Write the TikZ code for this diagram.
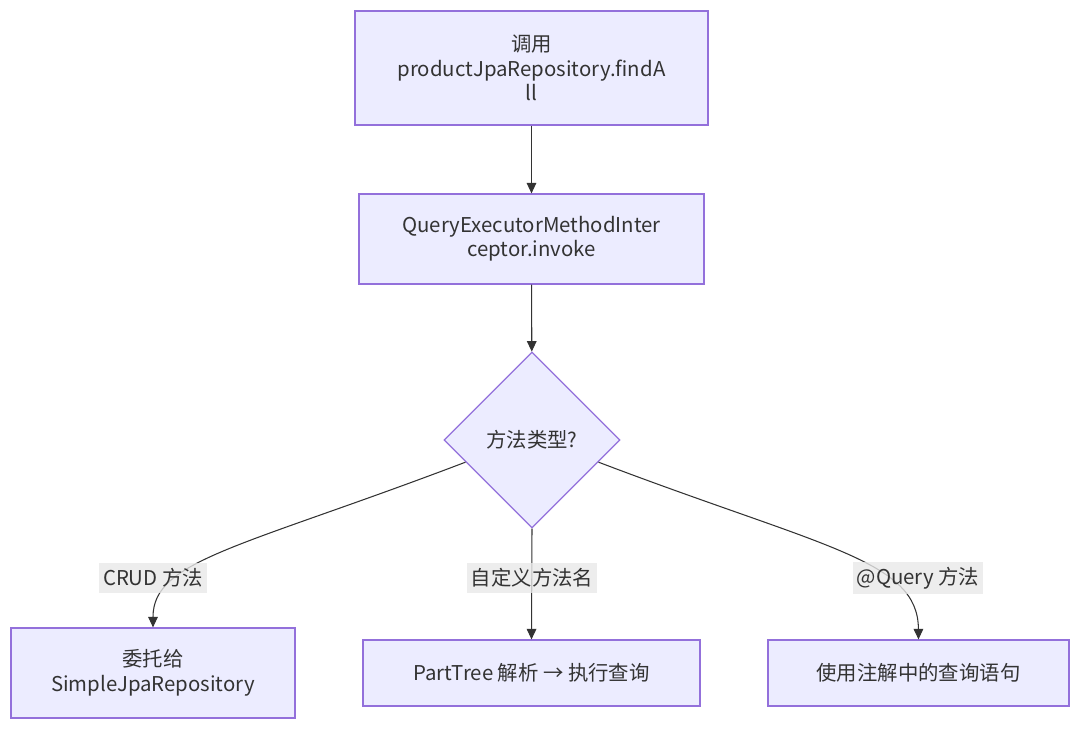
\documentclass[tikz,border=0pt]{standalone}
\usepackage{fontspec}
\setmainfont{Noto Sans CJK SC}
\usepackage{xcolor}
\usetikzlibrary{arrows.meta, positioning, calc, shapes.geometric}
\definecolor{mfill}{HTML}{ECECFF}
\definecolor{mline}{HTML}{9370DB}
\definecolor{mtext}{HTML}{333333}
\definecolor{mlabel}{HTML}{E8E8E8}
\tikzset{
  procbox/.style={draw=mline, fill=mfill, line width=0.7pt, inner sep=0pt,
    align=center, text=mtext, font=\fontsize{11.6pt}{13.9pt}\selectfont},
  decbox/.style={procbox, diamond, aspect=1},
  edgelabel/.style={fill=mlabel, fill opacity=0.8, text opacity=1, text=mtext,
    inner xsep=2pt, inner ysep=3pt, font=\fontsize{11.6pt}{13.9pt}\selectfont},
  flow/.style={draw=mtext, line width=0.6pt, -{Triangle[length=6pt, width=5.5pt]}}
}

\begin{document}
\begin{tikzpicture}[x=0.02cm, y=-0.02cm]
\useasboundingbox (0,0) rectangle (1080,730);
\node[procbox, minimum width=7.06cm, minimum height=2.28cm]
  (call) at (531.5,68) {调用\\productJpaRepository.findA\\ll};
\node[procbox, minimum width=6.9cm, minimum height=1.8cm]
  (invoke) at (531.5,239) {QueryExecutorMethodInter\\ceptor.invoke};
\node[decbox, minimum width=3.52cm, minimum height=3.52cm]
  (kind) at (532,440) {方法类型?};
\node[procbox, minimum width=5.68cm, minimum height=1.8cm]
  (crud) at (153,673) {委托给\\SimpleJpaRepository};
\node[procbox, minimum width=6.74cm, minimum height=1.32cm]
  (parttree) at (531.5,673) {PartTree 解析 → 执行查询};
\node[procbox, minimum width=6.02cm, minimum height=1.32cm]
  (annot) at (918.5,673) {使用注解中的查询语句};
% connectors
\draw[flow] (call) -- (invoke);
\draw[flow] (invoke) -- (kind);
\draw[flow] ($(kind.west)!0.25!(kind.south)$) .. controls (240,548) and (153,560) .. (crud.north);
\draw[flow] (kind.south) -- (parttree.north);
\draw[flow] ($(kind.east)!0.25!(kind.south)$) .. controls (824,548) and (918,560) .. (annot.north);
% edge labels
\node[edgelabel] (lcrud) at (153,578) {CRUD 方法};
\node[edgelabel] (lname) at (532,578) {自定义方法名};
\node[edgelabel] (lquery) at (918,578) {@Query 方法};
\end{tikzpicture}
\end{document}
